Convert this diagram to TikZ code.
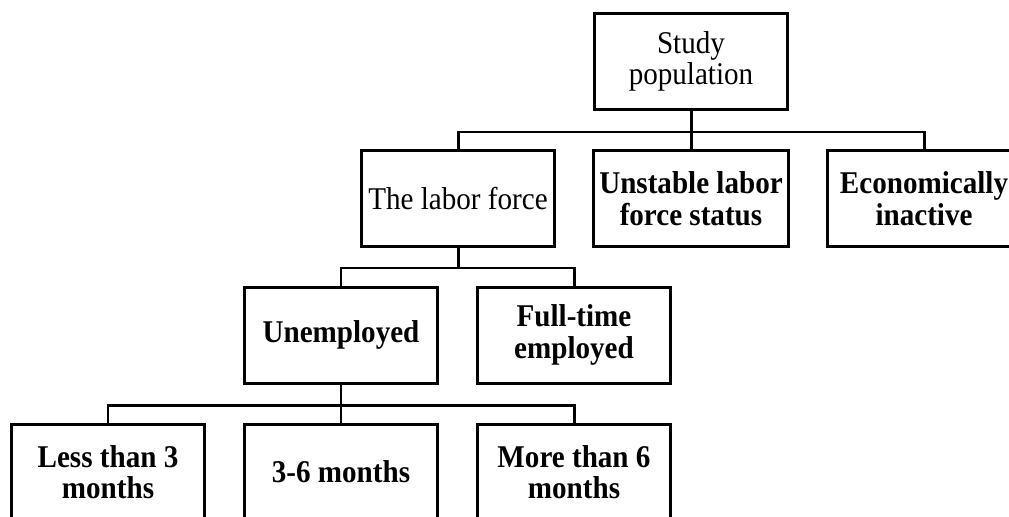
\documentclass[tikz,border=0pt]{standalone}
\usepackage{fontspec}
\setmainfont{Liberation Serif}[FakeStretch=0.92]
\begin{document}
\setlength{\lineskiplimit}{-20pt}
\begin{tikzpicture}[box/.style={draw, line width=1.7pt, minimum width=3.86cm, minimum height=1.92cm, align=center, font=\fontsize{18}{18}\selectfont}]
\useasboundingbox (0,0) rectangle (20.18,-10.32);
\clip (0,0) rectangle (20.18,-10.32);
\node[box] (study) at (13.82,-1.23) {Study\\population};
\node[box] (labor) at (9.16,-3.97) {The labor force};
\node[box] (unstable) at (13.82,-3.97) {\bfseries Unstable labor\\\bfseries force status};
\node[box] (inactive) at (18.48,-3.97) {\bfseries Economically\\\bfseries inactive};
\node[box] (unemployed) at (6.82,-6.70) {\bfseries Unemployed};
\node[box] (fulltime) at (11.48,-6.70) {\bfseries Full-time\\\bfseries employed};
\node[box] (short) at (2.16,-9.44) {\bfseries Less than 3\\\bfseries months};
\node[box] (middle) at (6.82,-9.44) {\bfseries 3-6 months};
\node[box] (long) at (11.48,-9.44) {\bfseries More than 6\\\bfseries months};
%%%%%%%%%%%%%
\draw[line width=1.7pt] (study.south) -- ++(0,-0.42) -| (labor.north);
\draw[line width=1.7pt] (study.south) -- ++(0,-0.42) -| (unstable.north);
\draw[line width=1.7pt] (study.south) -- ++(0,-0.42) -| (inactive.north);
%%%%%%%%%%%%%
\draw[line width=1.7pt] (labor.south) -- ++(0,-0.40) -| (unemployed.north);
\draw[line width=1.7pt] (labor.south) -- ++(0,-0.40) -| (fulltime.north);
%%%%%%%%%%%%%
\draw[line width=1.7pt] (unemployed.south) -- ++(0,-0.42) -| (short.north);
\draw[line width=1.7pt] (unemployed.south) -- ++(0,-0.42) -| (middle.north);
\draw[line width=1.7pt] (unemployed.south) -- ++(0,-0.42) -| (long.north);
\end{tikzpicture}
\end{document}
